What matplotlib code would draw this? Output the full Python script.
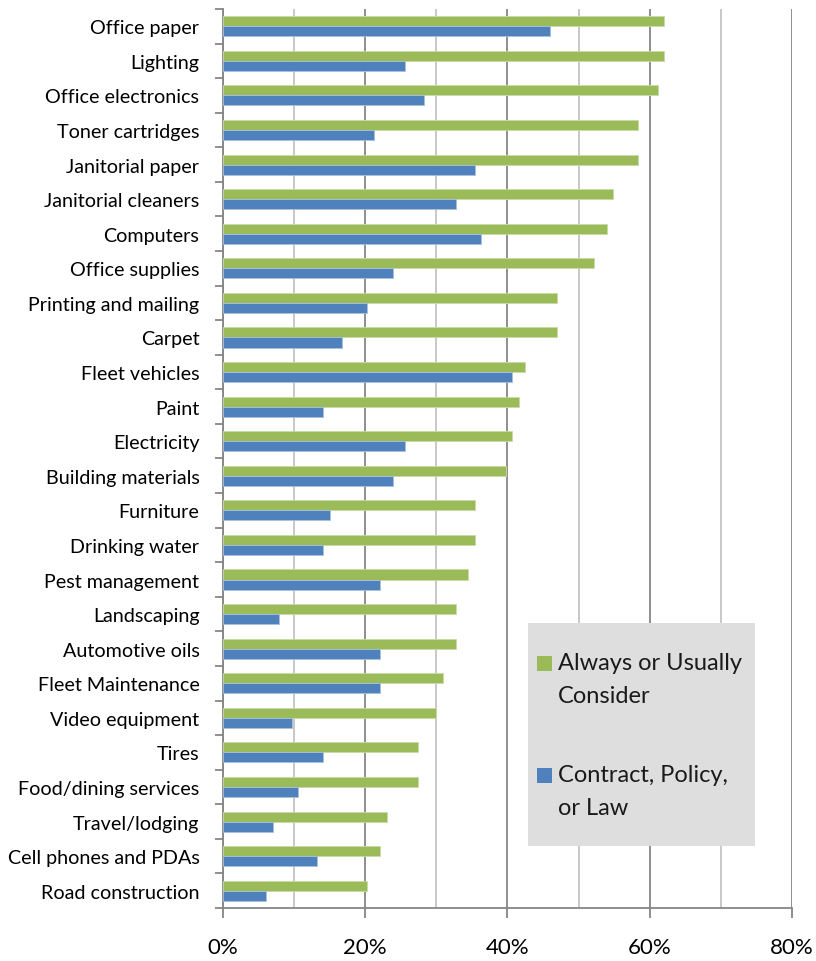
import matplotlib.pyplot as plt
from matplotlib.patches import Rectangle
from matplotlib.ticker import MultipleLocator, PercentFormatter
import numpy as np

plt.rcParams['font.family'] = ['Lato', 'DejaVu Sans']

categories = ["Office paper", "Lighting", "Office electronics", "Toner cartridges",
              "Janitorial paper", "Janitorial cleaners", "Computers", "Office supplies",
              "Printing and mailing", "Carpet", "Fleet vehicles", "Paint", "Electricity",
              "Building materials", "Furniture", "Drinking water", "Pest management",
              "Landscaping", "Automotive oils", "Fleet Maintenance", "Video equipment",
              "Tires", "Food/dining services", "Travel/lodging", "Cell phones and PDAs",
              "Road construction"]
consider = [62.0, 62.0, 61.1, 58.4, 58.4, 54.9, 54.0, 52.2, 46.9, 46.9, 42.4, 41.6, 40.7,
            39.8, 35.4, 35.4, 34.5, 32.7, 32.7, 30.9, 30.0, 27.4, 27.4, 23.0, 22.1, 20.3]
contract = [46.0, 25.6, 28.2, 21.2, 35.4, 32.7, 36.3, 23.9, 20.3, 16.8, 40.7, 14.1, 25.6,
            23.9, 15.0, 14.1, 22.1, 7.9, 22.1, 22.1, 9.7, 14.1, 10.5, 7.0, 13.2, 6.1]
series_names = [["Always or Usually", "Consider"], ["Contract, Policy,", "or Law"]]

green = '#9BBB59'
blue = '#4F81BD'
bar_h = 0.29
W, H = 816, 962

fig = plt.figure(figsize=(W / 100, H / 100), dpi=100)
ax = fig.add_axes([223 / W, 1 - 909 / H, (792 - 223) / W, (909 - 10) / H])

idx = np.arange(len(categories))
ax.barh(idx - bar_h / 2, consider, bar_h, color=green, edgecolor='#c8dba6', linewidth=0.6,
        zorder=3)
ax.barh(idx + bar_h / 2, contract, bar_h, color=blue, edgecolor='#a9c0de', linewidth=0.6,
        zorder=3)

ax.set_xlim(0, 80)
ax.set_ylim(len(categories) - 0.5, -0.5)

ax.xaxis.set_major_locator(MultipleLocator(20))
ax.xaxis.set_minor_locator(MultipleLocator(10))
ax.xaxis.set_major_formatter(PercentFormatter(decimals=0))
ax.grid(True, axis='x', which='major', color='#868686', linewidth=1.3, zorder=0)
ax.grid(True, axis='x', which='minor', color='#c4c4c4', linewidth=1.3, zorder=0)
ax.tick_params(axis='x', which='major', length=7, width=1.3, color='#868686',
               labelsize=16, pad=14)
ax.tick_params(axis='x', which='minor', length=0)

ax.set_yticks(idx)
ax.set_yticklabels(categories)
ax.set_yticks(np.arange(len(categories) + 1) - 0.5, minor=True)
ax.tick_params(axis='y', which='major', length=0, labelsize=14.2, pad=17)
ax.tick_params(axis='y', which='minor', length=6, width=1.3, color='#868686')

for side in ('top', 'right'):
    ax.spines[side].set_visible(False)
for side in ('left', 'bottom'):
    ax.spines[side].set_color('#868686')
    ax.spines[side].set_linewidth(1.3)

# legend box, drawn by hand so the swatch sits on the first line of each label
def px(x, y):
    return x / W, 1 - y / H

fig.patches.append(Rectangle(px(528, 847), (755 - 528) / W, (847 - 624) / H,
                             transform=fig.transFigure, facecolor='#dedede',
                             edgecolor='none', zorder=5))
for color, lines, y0 in [(green, series_names[0], 664), (blue, series_names[1], 776)]:
    fig.patches.append(Rectangle(px(537, y0 + 7.5), 15 / W, 15 / H,
                                 transform=fig.transFigure, facecolor=color,
                                 edgecolor='none', zorder=6))
    for k, line in enumerate(lines):
        fig.text(*px(558, y0 + k * 32.5), line, fontsize=17, va='center', ha='left',
                 color='#1a1a1a', zorder=7)

fig.savefig('out.png', dpi=100)
